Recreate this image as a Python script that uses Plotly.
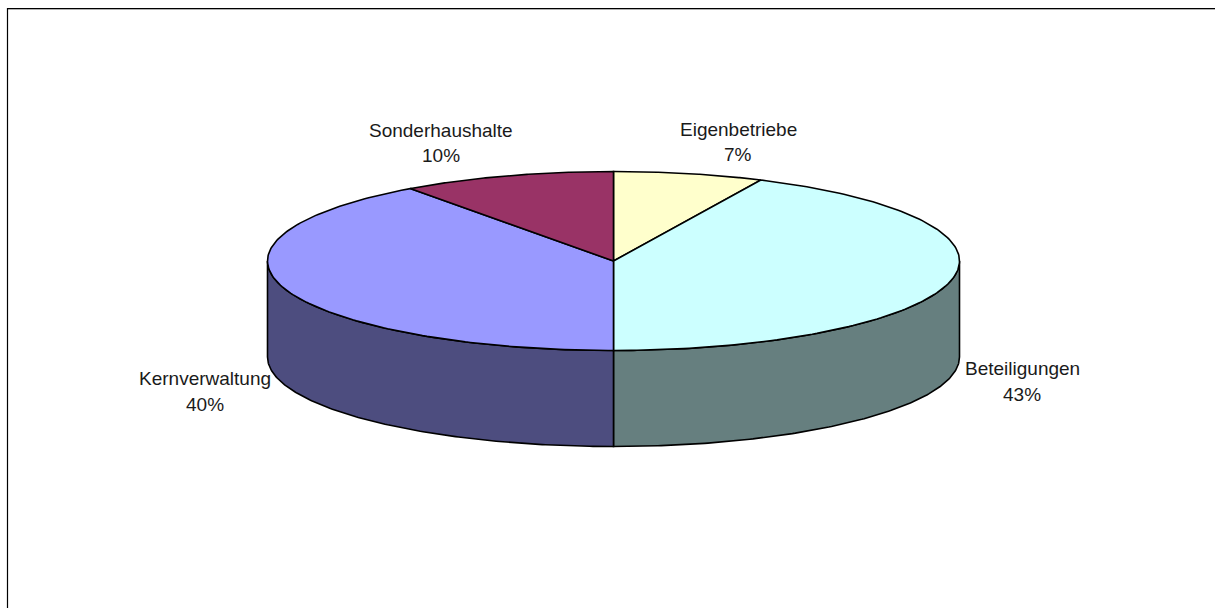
import numpy as np
import plotly.graph_objects as go

# Budget shares, clockwise from twelve o'clock
categories = ["Eigenbetriebe", "Beteiligungen", "Kernverwaltung", "Sonderhaushalte"]
shares = [7, 43, 40, 10]

top_colors = ["#FFFFCC", "#CCFFFF", "#9999FF", "#993366"]
wall_colors = ["#7F7F66", "#667F7F", "#4D4D7F", "#4D1A33"]

# Projected disc geometry, in page pixels
CX, CY = 613.5, 261.0
RX, RY = 346.0, 89.5
DEPTH = 96.0
LINE = dict(color="#000000", width=1.6)
FONT = dict(family="Liberation Sans, Arial, sans-serif", size=19, color="#1a1a1a")

# Name line and percent line centres for each slice label
label_anchors = {
    "Eigenbetriebe": (738, 129, 154),
    "Beteiligungen": (1022, 368, 394),
    "Kernverwaltung": (205, 378, 404),
    "Sonderhaushalte": (441, 130, 155),
}


def rim(start, end, n=160):
    """Points on the upper ellipse between two clockwise angles from the top."""
    t = np.linspace(start, end, n)
    return CX + RX * np.sin(t), CY - RY * np.cos(t)


edges = np.concatenate([[0], np.cumsum(shares)]) / sum(shares) * 2 * np.pi
fig = go.Figure()

# Outer wall: only the part of the rim facing the viewer, i.e. the lower half
for i in range(len(shares)):
    lo, hi = max(edges[i], np.pi / 2), min(edges[i + 1], 3 * np.pi / 2)
    if hi <= lo:
        continue
    x, y = rim(lo, hi)
    fig.add_trace(go.Scatter(
        x=np.concatenate([x, x[::-1], x[:1]]),
        y=np.concatenate([y, y[::-1] + DEPTH, y[:1]]),
        mode="lines", fill="toself", fillcolor=wall_colors[i], line=LINE,
        hoverinfo="skip", showlegend=False,
    ))

# Top face
for i in range(len(shares)):
    x, y = rim(edges[i], edges[i + 1])
    fig.add_trace(go.Scatter(
        x=np.concatenate([[CX], x, [CX]]),
        y=np.concatenate([[CY], y, [CY]]),
        mode="lines", fill="toself", fillcolor=top_colors[i], line=LINE,
        name=categories[i], hoverinfo="name", showlegend=False,
    ))

# Slice labels
for name, share in zip(categories, shares):
    ax, y_name, y_pct = label_anchors[name]
    for text, ay in ((name, y_name), (f"{share}%", y_pct)):
        fig.add_annotation(x=ax, y=ay, text=text, showarrow=False, font=FONT,
                           xanchor="center", yanchor="middle")

# Chart-area frame: only the top and left edges fall inside the page
fig.add_shape(type="line", x0=7.5, x1=1215, y0=8.5, y1=8.5, line=dict(color="#000000", width=1.2))
fig.add_shape(type="line", x0=7.5, x1=1215, y0=9.5, y1=9.5, line=dict(color="#B0B0B0", width=1))
fig.add_shape(type="line", x0=7.5, x1=7.5, y0=8, y1=608, line=dict(color="#000000", width=1.2))

fig.update_layout(
    width=1215, height=608,
    margin=dict(l=0, r=0, t=0, b=0),
    paper_bgcolor="#FFFFFF", plot_bgcolor="#FFFFFF",
    xaxis=dict(range=[0, 1215], visible=False, fixedrange=True),
    yaxis=dict(range=[608, 0], visible=False, fixedrange=True),
)

fig.write_html("out.html", config=dict(displayModeBar=False))
